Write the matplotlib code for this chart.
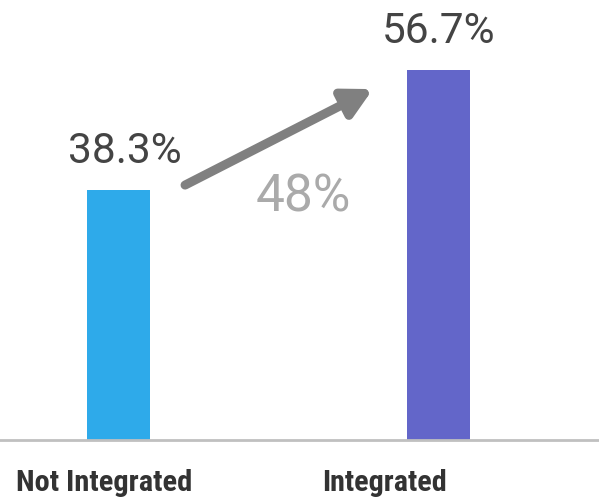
import matplotlib
matplotlib.use("Agg")
import matplotlib.pyplot as plt
from matplotlib import font_manager

categories = ["Not Integrated", "Integrated"]
values = [38.3, 56.7]
bar_colors = ["#2EAAEA", "#6366C9"]
growth_label = "48%"

plt.rcParams['font.family'] = ['Roboto', 'DejaVu Sans']

# condensed bold face for the category labels, if one is around
names = {f.name for f in font_manager.fontManager.ttflist}
cat_family = "Roboto"
for cand in ["Roboto Condensed", "Liberation Sans Narrow", "Open Sans Condensed"]:
    if cand in names:
        cat_family = cand
        break

fig = plt.figure(figsize=(5.99, 4.99), dpi=100)
ax = fig.add_axes([0, 59 / 499, 1, 440 / 499])

x = list(range(len(categories)))
ax.bar(x, values, width=0.197, color=bar_colors, zorder=2)

ax.set_xlim(-0.3703, 1.5016)
ax.set_ylim(0, 67.4)

# value labels above bars
value_shift = [0.021, 0.0]
for xi, v, dx in zip(x, values, value_shift):
    ax.annotate(f"{v}%", (xi + dx, v), xytext=(0, 19.5), textcoords="offset points",
                ha="center", va="baseline", fontsize=30.5, color="#444444")

# category labels below the baseline (sized to match reference width)
label_shift = [-0.044, -0.169]
label_width_px = [177, 125]
renderer = fig.canvas.get_renderer()
for xi, name, dx, wpx in zip(x, categories, label_shift, label_width_px):
    t = ax.annotate(name, (xi + dx, 0), xytext=(0, -37), textcoords="offset points",
                    ha="center", va="baseline", fontsize=23, fontweight="bold",
                    family=[cat_family, "DejaVu Sans"], color="#333333",
                    annotation_clip=False)
    w = t.get_window_extent(renderer).width
    if w > 0:
        t.set_fontsize(min(23, 23 * wpx / w))

# growth arrow
ax.annotate("", xy=(0.795, 53.75), xytext=(0.208, 39.05),
            arrowprops=dict(arrowstyle="-|>,head_length=1.7,head_width=0.9",
                            lw=6.5, color="#808080", capstyle="round",
                            shrinkA=0, shrinkB=0))
ax.text(0.577, 35.07, growth_label, ha="center", va="baseline",
        fontsize=37, color="#AAAAAA")

for s in ["top", "left", "right"]:
    ax.spines[s].set_visible(False)
ax.spines["bottom"].set_color("#C0C0C0")
ax.spines["bottom"].set_linewidth(2)
ax.set_xticks([])
ax.set_yticks([])
ax.patch.set_alpha(0)

fig.savefig("out.png", dpi=100)
